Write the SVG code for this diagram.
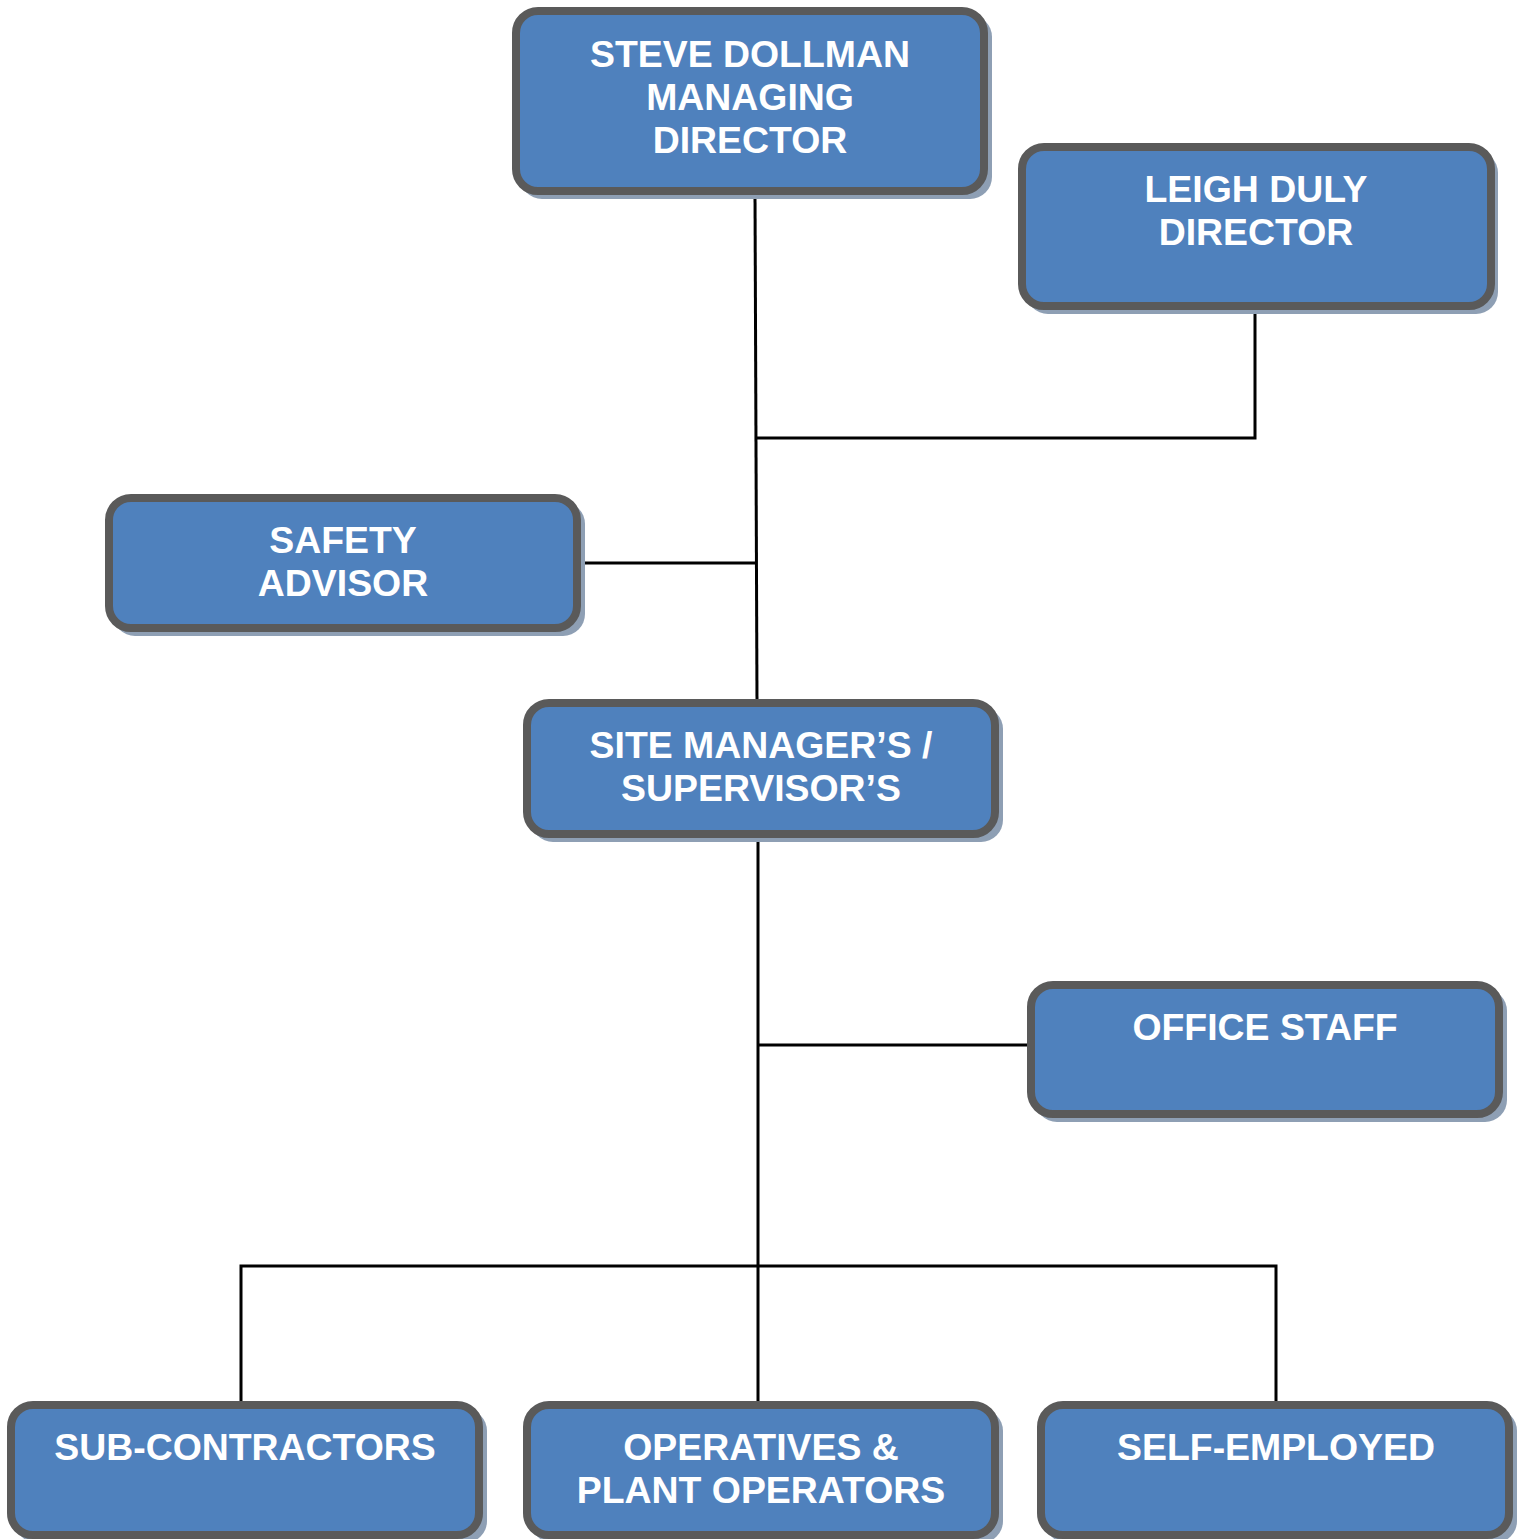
<svg xmlns="http://www.w3.org/2000/svg" width="1525" height="1539" viewBox="0 0 1525 1539">
<style>
.shadow{fill:#8e9fb4;}
.box{fill:#4f81bd;stroke:#5a5a5a;stroke-width:8;}
.t{font-family:"Liberation Sans",Arial,sans-serif;font-weight:bold;font-size:37.4px;fill:#ffffff;text-anchor:middle;}
.c{stroke:#000000;stroke-width:3;fill:none;}
</style>
<rect x="0" y="0" width="1525" height="1539" fill="#ffffff"/>
<g id="connectors">
<path class="c" d="M755,194 L757,703"/>
<path class="c" d="M1255,310 L1255,438 L757,438"/>
<path class="c" d="M580,563 L755,563"/>
<path class="c" d="M758,838 L758,1403"/>
<path class="c" d="M757,1045 L1031,1045"/>
<path class="c" d="M241,1403 L241,1266 L1276,1266 L1276,1403"/>
</g>
<g id="steve">
<rect class="shadow" x="520" y="15" width="472" height="184" rx="22"/>
<rect class="box" x="516" y="11" width="468" height="180" rx="22"/>
<text class="t" x="750" y="67">STEVE DOLLMAN</text>
<text class="t" x="750" y="110">MANAGING</text>
<text class="t" x="750" y="153">DIRECTOR</text>
</g>
<g id="leigh">
<rect class="shadow" x="1026" y="151" width="472" height="163" rx="22"/>
<rect class="box" x="1022" y="147" width="469" height="159" rx="22"/>
<text class="t" x="1256" y="202">LEIGH DULY</text>
<text class="t" x="1256" y="245">DIRECTOR</text>
</g>
<g id="safety">
<rect class="shadow" x="113" y="502" width="472" height="134" rx="22"/>
<rect class="box" x="109" y="498" width="468" height="130" rx="22"/>
<text class="t" x="343" y="553">SAFETY</text>
<text class="t" x="343" y="596">ADVISOR</text>
</g>
<g id="site">
<rect class="shadow" x="531" y="707" width="472" height="135" rx="22"/>
<rect class="box" x="527" y="703" width="468" height="131" rx="22"/>
<text class="t" x="761" y="758">SITE MANAGER’S /</text>
<text class="t" x="761" y="801">SUPERVISOR’S</text>
</g>
<g id="office">
<rect class="shadow" x="1035" y="989" width="472" height="133" rx="22"/>
<rect class="box" x="1031" y="985" width="468" height="129" rx="22"/>
<text class="t" x="1265" y="1040">OFFICE STAFF</text>
</g>
<g id="sub">
<rect class="shadow" x="15" y="1409" width="472" height="134" rx="22"/>
<rect class="box" x="11" y="1405" width="468" height="130" rx="22"/>
<text class="t" x="245" y="1460">SUB-CONTRACTORS</text>
</g>
<g id="operatives">
<rect class="shadow" x="531" y="1409" width="472" height="134" rx="22"/>
<rect class="box" x="527" y="1405" width="468" height="130" rx="22"/>
<text class="t" x="761" y="1460">OPERATIVES &amp;</text>
<text class="t" x="761" y="1503">PLANT OPERATORS</text>
</g>
<g id="self">
<rect class="shadow" x="1045" y="1409" width="472" height="134" rx="22"/>
<rect class="box" x="1041" y="1405" width="468" height="130" rx="22"/>
<text class="t" x="1276" y="1460">SELF-EMPLOYED</text>
</g>
</svg>
